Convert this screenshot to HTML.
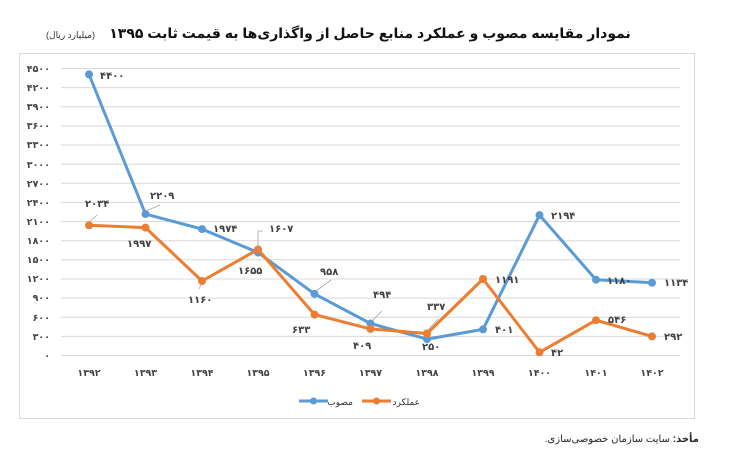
<!DOCTYPE html>
<html><head><meta charset="utf-8"><style>
body{margin:0;background:#fff;}
svg{display:block;}
text{font-family:"Liberation Sans","DejaVu Sans",sans-serif;}
</style></head><body>
<svg width="731" height="464" xmlns="http://www.w3.org/2000/svg">
<text x="370" y="38" text-anchor="middle" font-size="14" font-weight="bold" fill="#111" direction="rtl">نمودار مقایسه مصوب و عملکرد منابع حاصل از واگذاری‌ها به قیمت ثابت ۱۳۹۵</text>
<text x="95" y="38" text-anchor="start" font-size="9" fill="#333" direction="rtl">(میلیارد ریال)</text>
<rect x="19.5" y="53.5" width="675" height="365" fill="#fff" stroke="#d9d9d9"/>
<g stroke="#d9d9d9" stroke-width="1">
<line x1="61" x2="680" y1="68.5" y2="68.5"/><line x1="61" x2="680" y1="87.6" y2="87.6"/><line x1="61" x2="680" y1="106.8" y2="106.8"/><line x1="61" x2="680" y1="125.9" y2="125.9"/><line x1="61" x2="680" y1="145" y2="145"/><line x1="61" x2="680" y1="164.2" y2="164.2"/><line x1="61" x2="680" y1="183.3" y2="183.3"/><line x1="61" x2="680" y1="202.4" y2="202.4"/><line x1="61" x2="680" y1="221.6" y2="221.6"/><line x1="61" x2="680" y1="240.7" y2="240.7"/><line x1="61" x2="680" y1="259.8" y2="259.8"/><line x1="61" x2="680" y1="279" y2="279"/><line x1="61" x2="680" y1="298.1" y2="298.1"/><line x1="61" x2="680" y1="317.2" y2="317.2"/><line x1="61" x2="680" y1="336.4" y2="336.4"/><line x1="61" x2="680" y1="355.5" y2="355.5"/>
</g>
<g font-size="9.5" font-weight="bold" fill="#444" text-anchor="end">
<text x="50" y="72">۴۵۰۰</text><text x="50" y="91">۴۲۰۰</text><text x="50" y="110">۳۹۰۰</text><text x="50" y="129">۳۶۰۰</text><text x="50" y="148">۳۳۰۰</text><text x="50" y="168">۳۰۰۰</text><text x="50" y="187">۲۷۰۰</text><text x="50" y="206">۲۴۰۰</text><text x="50" y="225">۲۱۰۰</text><text x="50" y="244">۱۸۰۰</text><text x="50" y="263">۱۵۰۰</text><text x="50" y="282">۱۲۰۰</text><text x="50" y="301">۹۰۰</text><text x="50" y="321">۶۰۰</text><text x="50" y="340">۳۰۰</text><text x="50" y="359">۰</text>
</g>
<g font-size="9.5" font-weight="bold" fill="#444" text-anchor="middle">
<text x="89" y="376">۱۳۹۲</text><text x="145.5" y="376">۱۳۹۳</text><text x="202" y="376">۱۳۹۴</text><text x="258" y="376">۱۳۹۵</text><text x="314.5" y="376">۱۳۹۶</text><text x="370.5" y="376">۱۳۹۷</text><text x="427" y="376">۱۳۹۸</text><text x="483" y="376">۱۳۹۹</text><text x="539.5" y="376">۱۴۰۰</text><text x="596" y="376">۱۴۰۱</text><text x="652" y="376">۱۴۰۲</text>
</g>
<polyline fill="none" stroke="#5b9bd5" stroke-width="3" stroke-linejoin="round" points="89,74.4 145.5,214.1 202,229.1 258,252.5 314.5,293.9 370.5,323.5 427,339.1 483,329.4 539.5,215.1 596,279.7 652,282.7"/>
<g fill="#5b9bd5"><circle cx="89" cy="74.4" r="4"/><circle cx="145.5" cy="214.1" r="4"/><circle cx="202" cy="229.1" r="4"/><circle cx="258" cy="252.5" r="4"/><circle cx="314.5" cy="293.9" r="4"/><circle cx="370.5" cy="323.5" r="4"/><circle cx="427" cy="339.1" r="4"/><circle cx="483" cy="329.4" r="4"/><circle cx="539.5" cy="215.1" r="4"/><circle cx="596" cy="279.7" r="4"/><circle cx="652" cy="282.7" r="4"/></g>
<polyline fill="none" stroke="#ed7d31" stroke-width="3" stroke-linejoin="round" points="89,225.3 145.5,227.6 202,281 258,249.4 314.5,314.6 370.5,328.9 427,333.5 483,279 539.5,352.3 596,320.2 652,336.4"/>
<g fill="#ed7d31"><circle cx="89" cy="225.3" r="4"/><circle cx="145.5" cy="227.6" r="4"/><circle cx="202" cy="281" r="4"/><circle cx="258" cy="249.4" r="4"/><circle cx="314.5" cy="314.6" r="4"/><circle cx="370.5" cy="328.9" r="4"/><circle cx="427" cy="333.5" r="4"/><circle cx="483" cy="279" r="4"/><circle cx="539.5" cy="352.3" r="4"/><circle cx="596" cy="320.2" r="4"/><circle cx="652" cy="336.4" r="4"/></g>
<g stroke="#a6a6a6" stroke-width="0.8" fill="none">
<polyline points="89,222 97,215"/><polyline points="146,211 160,205"/><polyline points="258,250 258,231 263,231"/><polyline points="316,291 331,280"/><polyline points="372,321 382,311"/><polyline points="427,331 438,319"/><polyline points="202,283 199,289"/>
</g>
<g font-size="10" font-weight="bold" fill="#404040">
<text x="100" y="79">۴۴۰۰</text>
<text x="150" y="199">۲۲۰۹</text>
<text x="213" y="232">۱۹۷۴</text>
<text x="269" y="232">۱۶۰۷</text>
<text x="320" y="275">۹۵۸</text>
<text x="373" y="298">۴۹۴</text>
<text x="422" y="350">۲۵۰</text>
<text x="495" y="333">۴۰۱</text>
<text x="551" y="219">۲۱۹۴</text>
<text x="607" y="284">۱۱۸۰</text>
<text x="664" y="286">۱۱۳۴</text>
<text x="85" y="207">۲۰۳۴</text>
<text x="127" y="247">۱۹۹۷</text>
<text x="188" y="303">۱۱۶۰</text>
<text x="238" y="274">۱۶۵۵</text>
<text x="292" y="333">۶۳۳</text>
<text x="353" y="349">۴۰۹</text>
<text x="427" y="310">۳۳۷</text>
<text x="495" y="283">۱۱۹۱</text>
<text x="551" y="356">۴۲</text>
<text x="608" y="323">۵۴۶</text>
<text x="664" y="340">۲۹۲</text>
</g>
<line x1="299" x2="328" y1="401" y2="401" stroke="#5b9bd5" stroke-width="3"/><circle cx="313.5" cy="401" r="3.5" fill="#5b9bd5"/>
<text x="353" y="405" text-anchor="start" font-size="9" fill="#333" direction="rtl">مصوب</text>
<line x1="362" x2="391" y1="401" y2="401" stroke="#ed7d31" stroke-width="3"/><circle cx="376.5" cy="401" r="3.5" fill="#ed7d31"/>
<text x="420" y="405" text-anchor="start" font-size="9" fill="#333" direction="rtl">عملکرد</text>
<text x="699" y="442" text-anchor="start" font-size="10" fill="#222" direction="rtl"><tspan font-weight="bold">مأخذ:</tspan> سایت سازمان خصوصی‌سازی.</text>
</svg>
</body></html>
